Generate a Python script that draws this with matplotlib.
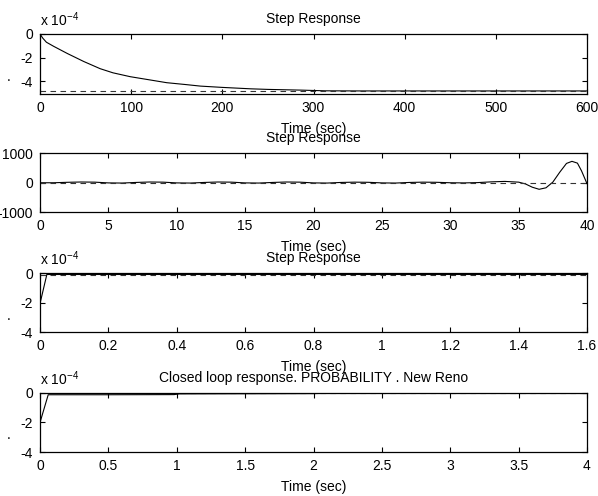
import matplotlib
matplotlib.use("Agg")
import matplotlib.pyplot as plt
from matplotlib.ticker import FuncFormatter

plt.rcParams["font.family"] = ["Liberation Sans", "DejaVu Sans"]
plt.rcParams["mathtext.default"] = "regular"
plt.rcParams["axes.unicode_minus"] = False
plt.rcParams["font.size"] = 10

# panel 1: step response, 0-600 s
t1 = [0, 3, 7, 15, 30, 48, 66, 80, 99, 121, 139, 160, 176, 200, 231, 250,
      286, 313, 350, 450, 600]
y1 = [0, -0.35, -0.7, -1.05, -1.66, -2.34, -2.95, -3.3, -3.63, -3.91, -4.14,
      -4.3, -4.43, -4.54, -4.66, -4.71, -4.77, -4.83, -4.84, -4.84, -4.84]
final1 = -4.84

# panel 2: step response, 0-40 s
t2 = [0, 1, 2, 3, 4, 5, 6, 7, 8, 9, 10, 11, 12, 13, 14, 15, 16, 17, 18, 19,
      20, 21, 22, 23, 24, 25, 26, 27, 28, 29, 30, 31, 32, 33, 34, 35, 35.5,
      36, 36.5, 37, 37.5, 38, 38.5, 38.9, 39.3, 39.6, 40]
y2 = [0, 0, 15, 25, 20, -5, -10, 10, 25, 20, -5, -10, 10, 25, 20, -5, -10,
      10, 25, 20, -5, -10, 10, 20, 15, -5, -10, 10, 20, 15, 0, -5, 5, 30, 45,
      20, -40, -150, -220, -170, 20, 350, 650, 720, 660, 400, -30]
final2 = 0

# panel 3: step response, 0-1.6 s
t3 = [0, 0.02, 0.1, 0.5, 1.0, 1.6]
y3 = [-2.05, -0.08, -0.08, -0.08, -0.08, -0.08]
final3 = -0.09

# panel 4: closed loop response, 0-4 s
t4 = [0, 0.06, 0.5, 0.98, 1.02, 1.5, 2.0, 2.1, 3, 4]
y4 = [-2.0, -0.12, -0.12, -0.11, -0.06, -0.05, -0.04, -0.02, -0.01, -0.01]
final4 = -0.01

panels = [
    (t1, y1, final1, 1e-4, (0, 600), (-5.1, 0), [0, -2, -4], "Step Response"),
    (t2, y2, final2, 1, (0, 40), (-1000, 1000), [-1000, 0, 1000], "Step Response"),
    (t3, y3, final3, 1e-4, (0, 1.6), (-4, 0), [0, -2, -4], "Step Response"),
    (t4, y4, final4, 1e-4, (0, 4), (-4, 0), [0, -2, -4],
     "Closed loop response. PROBABILITY . New Reno"),
]

fig = plt.figure(figsize=(5.98, 4.96), dpi=100)
rects = [
    [0.0669, 0.8105, 0.9147, 0.1210],
    [0.0669, 0.5716, 0.9147, 0.1199],
    [0.0669, 0.3300, 0.9147, 0.1190],
    [0.0669, 0.0887, 0.9147, 0.1190],
]

for rect, (t, y, final, scale, xlim, ylim, yt, title) in zip(rects, panels):
    ax = fig.add_axes(rect)
    ax.plot(t, [v * scale for v in y], color="k", lw=0.8)
    ax.axhline(final * scale, color="#333333", lw=0.8, ls=(0, (5, 4)))
    ax.set_xlim(xlim)
    ax.set_ylim(ylim[0] * scale, ylim[1] * scale)
    ax.set_yticks([v * scale for v in yt])
    ax.xaxis.set_major_formatter(FuncFormatter(lambda v, p: f"{v:g}"))
    if scale != 1:
        ax.yaxis.set_major_formatter(FuncFormatter(lambda v, p: f"{v / 1e-4:g}"))
        ax.annotate(r"x 10$^{-4}$", xy=(0, 1), xycoords="axes fraction",
                    xytext=(0, 6), textcoords="offset points",
                    va="baseline", ha="left")
        ax.text(-0.058, 0.28, ".", transform=ax.transAxes,
                ha="center", va="center")
    ax.tick_params(direction="in", top=True, right=True, length=3.5,
                   width=0.8, pad=5, labelsize=10)
    for s in ax.spines.values():
        s.set_linewidth(0.9)
    ax.set_title(title, fontsize=10, pad=8)
    ax.set_xlabel("Time (sec)", fontsize=10, labelpad=5)

fig.savefig("out.png", dpi=100)
